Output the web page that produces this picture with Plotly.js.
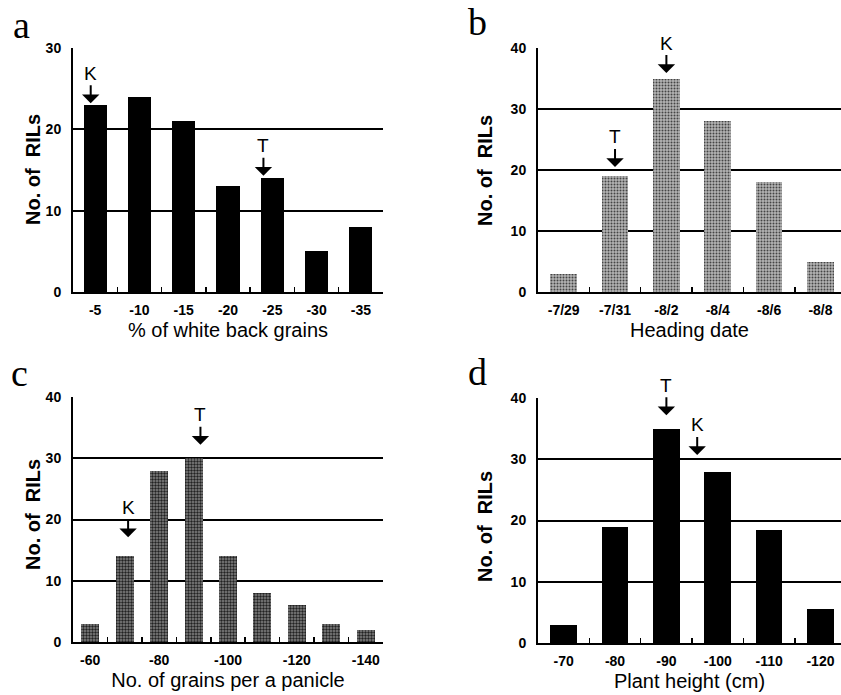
<!DOCTYPE html>
<html>
<head>
<meta charset="utf-8">
<script src="https://cdn.plot.ly/plotly-3.0.1.min.js"></script>
<style>html,body{margin:0;padding:0;background:#fff;}#chart{width:841px;height:695px;}</style>
</head>
<body>
<div id="chart"></div>
<script>
// ---- data ----
const aBins = ['-5', '-10', '-15', '-20', '-25', '-30', '-35'];
const aLabels = ['-5', '-10', '-15', '-20', '-25', '-30', '-35'];
const aValues = [23, 24, 21, 13, 14, 5, 8];

const bBins = ['-7/29', '-7/31', '-8/2', '-8/4', '-8/6', '-8/8'];
const bLabels = ['-7/29', '-7/31', '-8/2', '-8/4', '-8/6', '-8/8'];
const bValues = [3, 19, 35, 28, 18, 5];

const cBins = ['-60', '-70', '-80', '-90', '-100', '-110', '-120', '-130', '-140'];
const cLabels = ['-60', '', '-80', '', '-100', '', '-120', '', '-140'];
const cValues = [3, 14, 28, 30, 14, 8, 6, 3, 2];

const dBins = ['-70', '-80', '-90', '-100', '-110', '-120'];
const dLabels = ['-70', '-80', '-90', '-100', '-110', '-120'];
const dValues = [3, 19, 35, 28, 18.4, 5.5];

// parent markers: [panel, letter, category position, arrow tip value]
const markers = [
  ['a', 'K', -0.1, 23.2],
  ['a', 'T', 3.8, 14.3],
  ['b', 'T', 1.0, 20.5],
  ['b', 'K', 2.0, 35.9],
  ['c', 'T', 3.2, 32.2],
  ['c', 'K', 1.1, 17.1],
  ['d', 'T', 2.0, 37.2],
  ['d', 'K', 2.6, 30.7]
];

const W = 841, H = 695;
const px = v => v / W;
const py = v => (H - v) / H;

const tickFont = {family: 'Arial, "Liberation Sans", sans-serif', size: 14, color: '#000', weight: 'bold'};
const titleFont = {family: 'Arial, "Liberation Sans", sans-serif', size: 20, color: '#000'};

function xaxis(bins, labels, range, domain, title) {
  return {
    domain: domain, range: range, type: 'category', fixedrange: true,
    categoryorder: 'array', categoryarray: bins,
    tickmode: 'array', tickvals: bins, ticktext: labels, tickangle: 0,
    ticks: 'inside', tickson: 'boundaries', ticklen: 5, tickwidth: 1.5, tickcolor: '#000',
    showgrid: false, zeroline: false,
    showline: true, linecolor: '#000', linewidth: 2,
    tickfont: tickFont, ticklabelstandoff: 4,
    title: {text: title, font: titleFont, standoff: 6}
  };
}
function yaxis(max, domain) {
  return {
    domain: domain, range: [0, max], fixedrange: true,
    tickmode: 'linear', tick0: 0, dtick: 10,
    ticks: '', showgrid: true, gridcolor: '#000', gridwidth: 2,
    zeroline: false, showline: true, linecolor: '#000', linewidth: 2,
    tickfont: tickFont, ticklabelstandoff: 7
  };
}

const bw = 0.52;
const traces = [
  {type: 'bar', x: aBins, y: aValues, xaxis: 'x', yaxis: 'y', width: bw,
   marker: {color: '#000', line: {width: 0}}, hoverinfo: 'skip'},
  {type: 'bar', x: bBins, y: bValues, xaxis: 'x2', yaxis: 'y2', width: bw,
   marker: {color: '#a8a8a8', line: {width: 0},
            pattern: {shape: '.', fgcolor: '#444', bgcolor: '#b4b4b4', size: 3, solidity: 0.35}}, hoverinfo: 'skip'},
  {type: 'bar', x: cBins, y: cValues, xaxis: 'x3', yaxis: 'y3', width: bw,
   marker: {color: '#666', line: {width: 0},
            pattern: {shape: '.', fgcolor: '#222', bgcolor: '#858585', size: 3, solidity: 0.5}}, hoverinfo: 'skip'},
  {type: 'bar', x: dBins, y: dValues, xaxis: 'x4', yaxis: 'y4', width: bw,
   marker: {color: '#000', line: {width: 0}}, hoverinfo: 'skip'}
];

const axMap = {a: ['x', 'y'], b: ['x2', 'y2'], c: ['x3', 'y3'], d: ['x4', 'y4']};
const annotations = markers.map(m => ({
  xref: axMap[m[0]][0], yref: axMap[m[0]][1], x: m[2], y: m[3],
  text: m[1], showarrow: true, arrowhead: 1, arrowsize: 1.45, arrowwidth: 2, arrowcolor: '#000',
  ax: 0, ay: -30, standoff: 0, startstandoff: 0,
  font: {family: 'Arial, "Liberation Sans", sans-serif', size: 19, color: '#000'}
}));

const panelFont = {family: '"Liberation Serif", "DejaVu Serif", serif', size: 38, color: '#000'};
[['a', 11, 25], ['b', 466, 22], ['c', 9, 373], ['d', 466, 372]].forEach(p => {
  annotations.push({xref: 'paper', yref: 'paper', x: px(p[1]), y: py(p[2]), xanchor: 'left', yanchor: 'middle',
    text: p[0], showarrow: false, font: panelFont});
});
const yTitleFont = {family: 'Arial, "Liberation Sans", sans-serif', size: 20, color: '#000', weight: 'bold'};
[[33, 170], [485, 170], [33, 515], [485, 526]].forEach(p => {
  annotations.push({xref: 'paper', yref: 'paper', x: px(p[0]), y: py(p[1]), xanchor: 'center', yanchor: 'middle',
    text: 'No. of  RILs', textangle: -90, showarrow: false, font: yTitleFont});
});

const layout = {
  width: W, height: H, margin: {l: 0, r: 0, t: 0, b: 0},
  paper_bgcolor: '#fff', plot_bgcolor: '#fff', showlegend: false, bargap: 0,
  xaxis: xaxis(aBins, aLabels, [-0.5, 6.5], [px(73), px(383)], '% of white back grains'),
  yaxis: yaxis(30, [py(292), py(48)]),
  xaxis2: xaxis(bBins, bLabels, [-0.5, 5.4], [px(538), 1], 'Heading date'),
  yaxis2: yaxis(40, [py(292), py(48)]),
  xaxis3: xaxis(cBins, cLabels, [-0.5, 8.5], [px(73), px(383)], 'No. of grains per a panicle'),
  yaxis3: yaxis(40, [py(642), py(397)]),
  xaxis4: xaxis(dBins, dLabels, [-0.5, 5.4], [px(538), 1], 'Plant height (cm)'),
  yaxis4: yaxis(40, [py(643), py(398)]),
  annotations: annotations
};
['', '2', '3', '4'].forEach(s => {
  layout['xaxis' + s].anchor = 'y' + s;
  layout['yaxis' + s].anchor = 'x' + s;
});

Plotly.newPlot('chart', traces, layout, {displayModeBar: false, staticPlot: true});
</script>
</body>
</html>
